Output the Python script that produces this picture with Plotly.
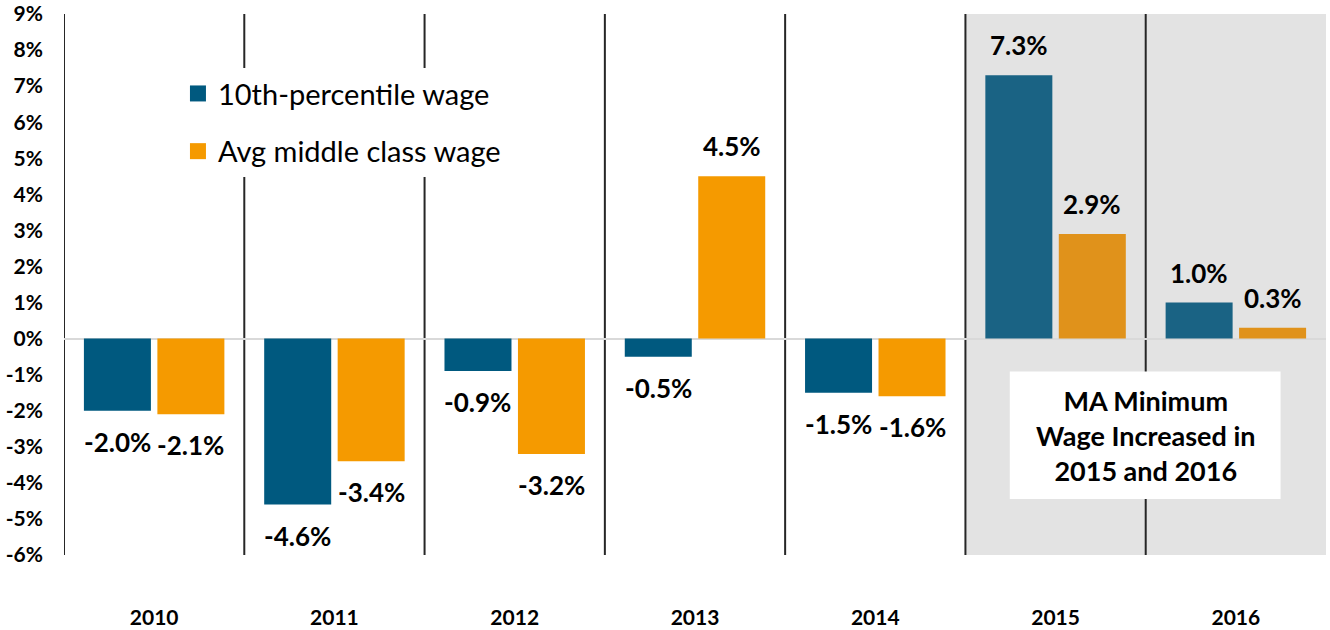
import plotly.graph_objects as go

years = ["2010", "2011", "2012", "2013", "2014", "2015", "2016"]
tenth_pct = [-2.0, -4.6, -0.9, -0.5, -1.5, 7.3, 1.0]
middle_class = [-2.1, -3.4, -3.2, 4.5, -1.6, 2.9, 0.3]
series_names = ["10th-percentile wage", "Avg middle class wage"]
highlight_years = ["2015", "2016"]
y_ticks = list(range(-6, 10))
y_tick_text = [f"{t}%" for t in y_ticks]
note_text = "MA Minimum<br>Wage Increased in<br>2015 and 2016"

FONT = "Lato"
BLUE, BLUE_HI = "#00597f", "#1a6384"
ORANGE, ORANGE_HI = "#f59a00", "#e0921b"

fig = go.Figure()

series = [(series_names[0], tenth_pct, BLUE, BLUE_HI, -1),
          (series_names[1], middle_class, ORANGE, ORANGE_HI, 1)]

for name, vals, c, chi, side in series:
    cols = [chi if y in highlight_years else c for y in years]
    fig.add_trace(go.Bar(x=years, y=vals, name=name, marker=dict(color=cols, line=dict(width=0)),
                         showlegend=False, hoverinfo="skip"))

# legend proxies
for i, (name, vals, c, chi, side) in enumerate(series):
    fig.add_trace(go.Scatter(x=[None], y=[None], mode="markers", name=name,
                             marker=dict(symbol="square", size=16, color=c),
                             legendgroup=f"g{i}", showlegend=True))

# value labels
for name, vals, c, chi, side in series:
    for i, v in enumerate(vals):
        fig.add_annotation(x=i, y=v, xref="x", yref="y", text=f"{v:.1f}%", showarrow=False,
                           xshift=36.75 * side, yshift=30 if v >= 0 else -31,
                           font=dict(family=FONT, size=26, color="black", weight="bold"))

shapes = []
# grey highlight region
shapes.append(dict(type="rect", xref="x", yref="paper",
                   x0=years.index(highlight_years[0]) - 0.5, x1=len(years) - 0.5,
                   y0=0, y1=1, fillcolor="#e3e3e3", line=dict(width=0), layer="below"))
# vertical separators
for i in range(len(years)):
    shapes.append(dict(type="line", xref="x", yref="paper", x0=i - 0.5, x1=i - 0.5,
                       y0=0, y1=1, line=dict(color="#262626", width=2), layer="below"))
# white note box
shapes.append(dict(type="rect", xref="x", yref="y", x0=4.746, x1=6.248, y0=-4.45, y1=-0.915,
                   fillcolor="white", line=dict(width=0), layer="above"))
fig.update_layout(shapes=shapes)

fig.add_annotation(x=5.5, y=-2.68, xref="x", yref="y", text=note_text, showarrow=False,
                   font=dict(family=FONT, size=27, color="black", weight="bold"))

fig.update_layout(
    width=1330, height=630,
    margin=dict(l=64, r=4, t=14, b=75, autoexpand=False),
    paper_bgcolor="white", plot_bgcolor="white",
    barmode="group", bargap=0.185, bargroupgap=0.088,
    font=dict(family=FONT, color="black"),
    showlegend=True,
    legend=dict(x=0.0903, y=0.9, xanchor="left", yanchor="top", bgcolor="white",
                font=dict(family=FONT, size=29, color="black"),
                traceorder="grouped", tracegroupgap=17, itemwidth=30),
    xaxis=dict(type="category", categoryorder="array", categoryarray=years,
               showgrid=False, zeroline=False, showline=False, ticks="", automargin=False,
               tickfont=dict(family=FONT, size=21, color="black", weight="bold"),
               ticklabelstandoff=48, range=[-0.5, len(years) - 0.5]),
    yaxis=dict(range=[-6, 9], tickmode="array", tickvals=y_ticks, ticktext=y_tick_text,
               showgrid=False, automargin=False,
               zeroline=True, zerolinecolor="#d9d9d9", zerolinewidth=2, showline=False, ticks="",
               tickfont=dict(family=FONT, size=21, color="black", weight="bold"),
               ticklabelstandoff=20),
)

fig.write_html("out.html", config={"displayModeBar": False},
               post_script="document.body.style.margin='0';document.body.style.overflow='hidden';")
